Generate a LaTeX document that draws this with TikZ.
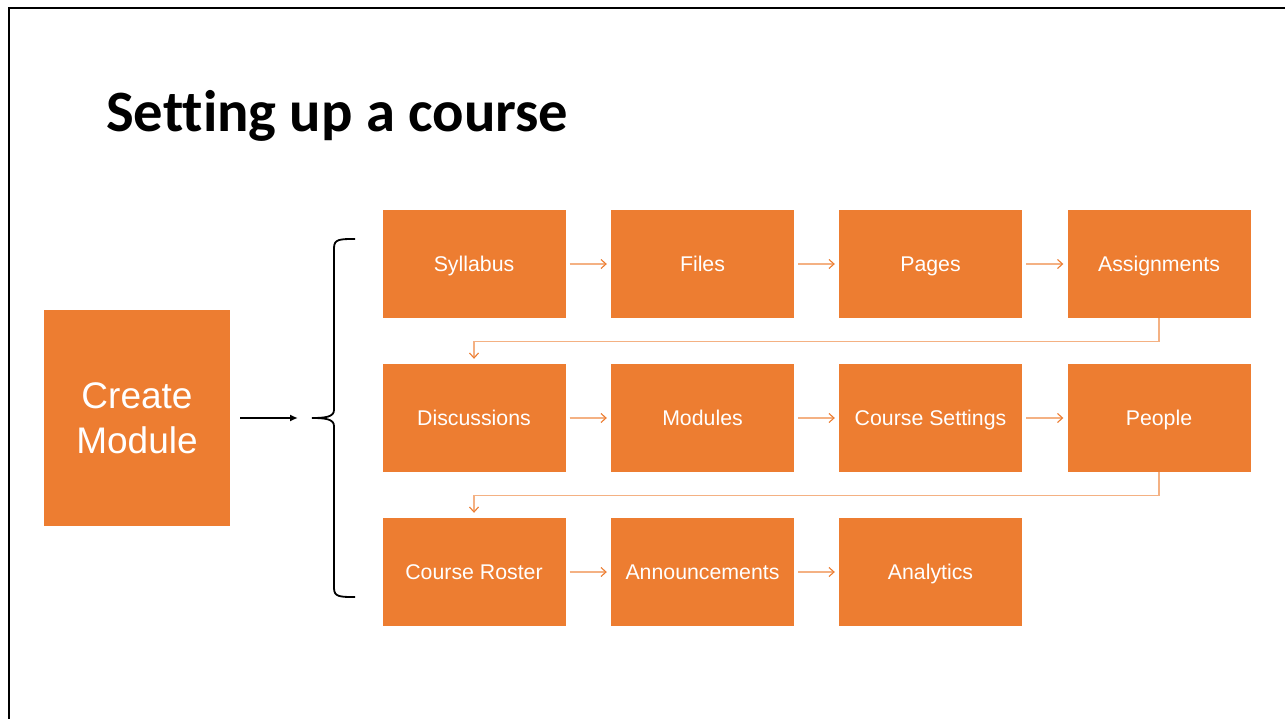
\documentclass[tikz,border=0pt]{standalone}
\usepackage{fontspec}
\setmainfont{Liberation Sans}
\newfontfamily\titlefont[Ligatures={NoCommon},BoldFont={Carlito Bold}]{Carlito}
\usetikzlibrary{arrows.meta}
\definecolor{boxor}{HTML}{ED7D31}
\definecolor{lineor}{HTML}{F4B183}
\begin{document}
\begin{tikzpicture}[x=1pt,y=-1pt,
  stepbox/.style={fill=boxor,draw=none,minimum width=183pt,minimum height=108pt,inner sep=0pt,text=white,font=\fontsize{21.3}{25}\selectfont,text height=15.2pt,text depth=0pt},
  bigbox/.style={fill=boxor,draw=none,minimum width=186pt,minimum height=216pt,inner sep=0pt,text=white,align=center,font=\fontsize{37}{45}\selectfont},
  oarrow/.style={draw=lineor,line width=1.3pt,-{Straight Barb[length=5pt,width=9pt,color=boxor,line width=1.1pt]}},
  barrow/.style={draw=black,line width=1.8pt,-{Latex[length=8pt,width=7pt]}}]
\useasboundingbox (0,0) rectangle (1285,719);
\fill[white] (0,0) rectangle (1285,719);
\draw[line width=2.2pt] (9,719) -- (9,8) -- (1285,8);
\node[anchor=base west,inner sep=0pt,font=\titlefont\bfseries\fontsize{58.6}{66}\selectfont] (title) at (106,132) {Setting up a course};
\node[bigbox] (create) at (137,418) {Create\\Module};
% row 1
\node[stepbox] (syll) at (474,264) {Syllabus};
\node[stepbox] (files) at (702.5,264) {Files};
\node[stepbox] (pages) at (930.5,264) {Pages};
\node[stepbox] (assign) at (1159,264) {Assignments};
% row 2
\node[stepbox] (disc) at (474,418) {Discussions};
\node[stepbox] (mods) at (702.5,418) {Modules};
\node[stepbox] (cset) at (930.5,418) {Course Settings};
\node[stepbox] (people) at (1159,418) {People};
% row 3
\node[stepbox] (roster) at (474,572) {Course Roster};
\node[stepbox] (ann) at (702.5,572) {Announcements};
\node[stepbox] (anal) at (930.5,572) {Analytics};
% connectors
\foreach \a/\b in {syll/files,files/pages,pages/assign,disc/mods,mods/cset,cset/people,roster/ann,ann/anal}
  \draw[oarrow,shorten <=4pt,shorten >=4pt] (\a) -- (\b);
\draw[oarrow,shorten >=5pt] (assign.south) -- ++(0,23) -| (disc.north);
\draw[oarrow,shorten >=5pt] (people.south) -- ++(0,23) -| (roster.north);
% brace
\coordinate (btip) at (312,418);
\draw[line width=1.8pt] (355,239) .. controls (340,239) and (334,239) .. (334,248)
  -- (334,410) .. controls (334,417) and (325,418) .. (btip)
  .. controls (325,418) and (334,419) .. (334,426)
  -- (334,588) .. controls (334,597) and (340,597) .. (355,597);
\draw[barrow,shorten <=10pt,shorten >=14pt] (create.east) -- (btip);
\end{tikzpicture}
\end{document}
